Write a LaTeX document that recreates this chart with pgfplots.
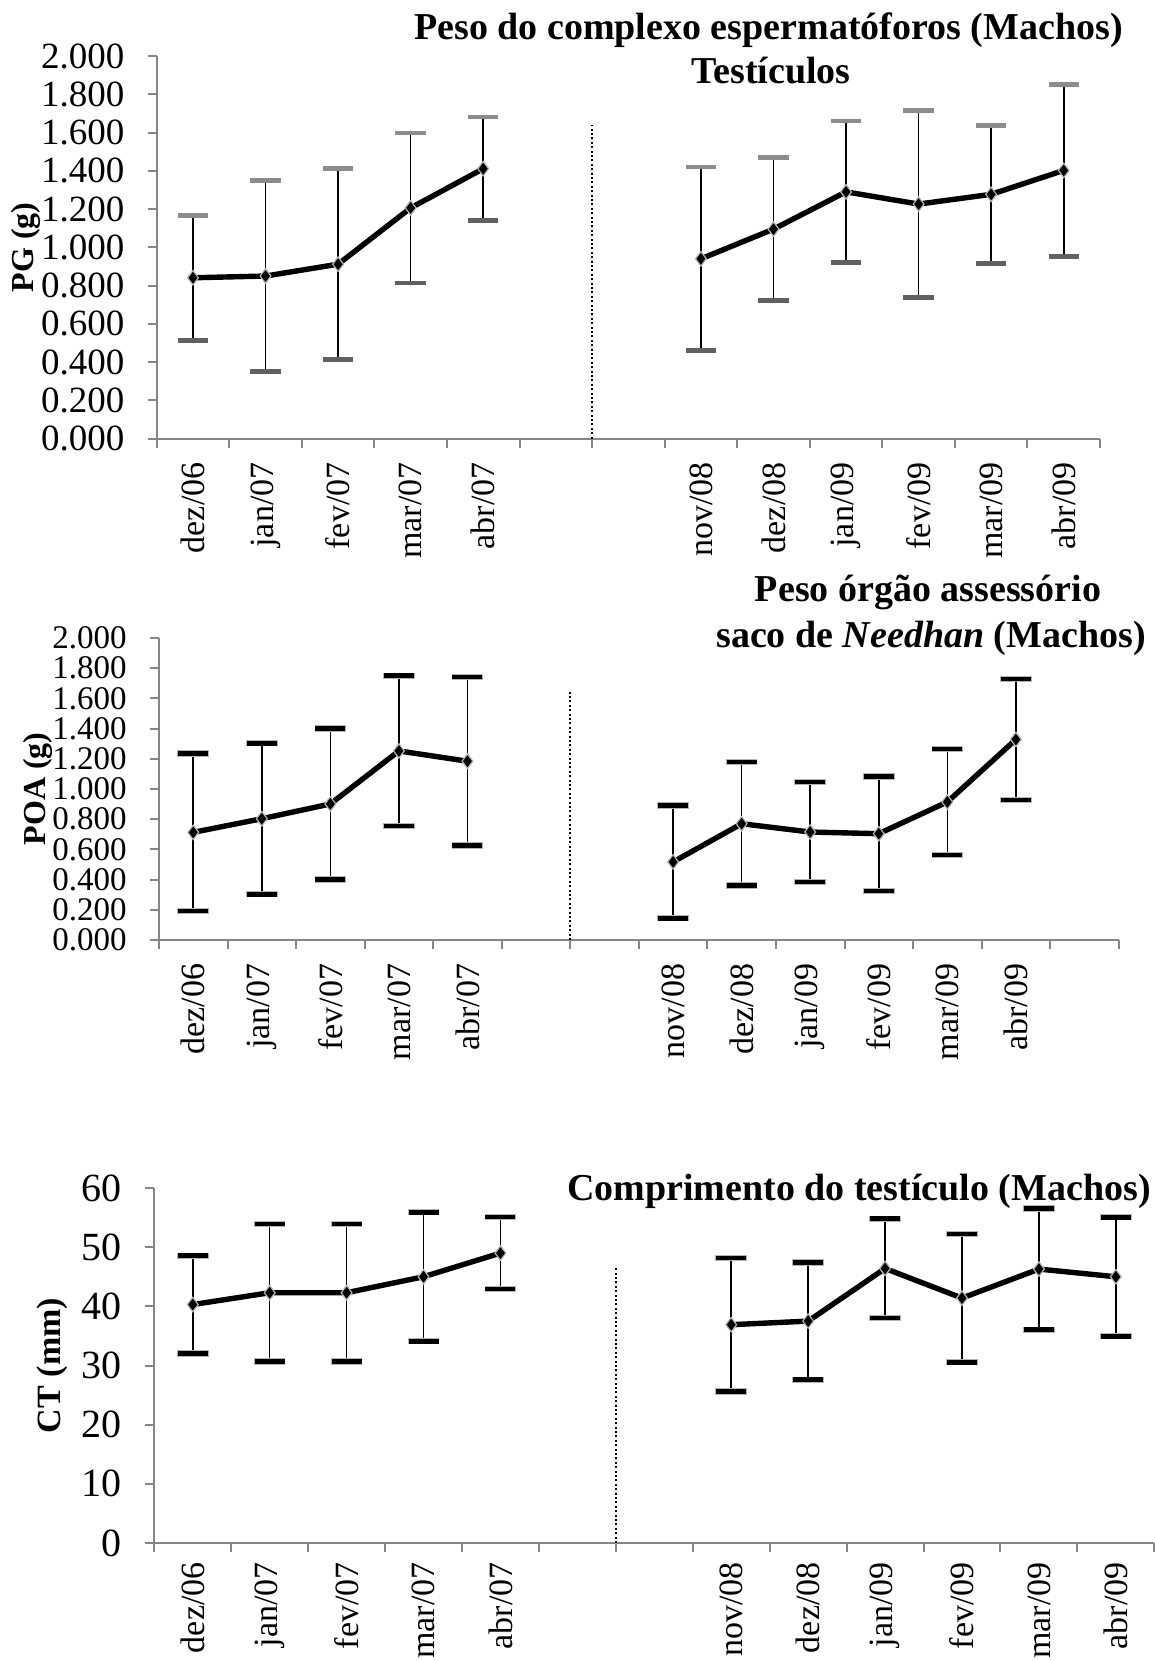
\documentclass[border=0pt]{standalone}
\usepackage{fontspec}
\setmainfont{Liberation Serif}
\usepackage{pgfplots}
\pgfplotsset{compat=1.18}
\usepackage{pgfplotstable}
\definecolor{axgray}{HTML}{868686}
\definecolor{capup}{HTML}{8C8C8C}
\definecolor{caplow}{HTML}{606060}
\definecolor{outl}{HTML}{B4B4B4}

% Panel 1: PG (g)
\pgfplotstableread{
x m e
0 0.841 0.327
1 0.850 0.500
2 0.912 0.500
3 1.206 0.392
4 1.411 0.270
}\pgA
\pgfplotstableread{
x m e
7 0.940 0.480
8 1.095 0.373
9 1.290 0.370
10 1.226 0.488
11 1.277 0.360
12 1.402 0.451
}\pgB
% Panel 2: POA (g)
\pgfplotstableread{
x m e
0 0.713 0.521
1 0.803 0.500
2 0.901 0.500
3 1.252 0.498
4 1.184 0.559
}\poaA
\pgfplotstableread{
x m e
7 0.517 0.373
8 0.770 0.409
9 0.715 0.331
10 0.704 0.379
11 0.914 0.352
12 1.328 0.400
}\poaB
% Panel 3: CT (mm)
\pgfplotstableread{
x m e
0 40.3 8.25
1 42.3 11.6
2 42.3 11.6
3 45.0 10.9
4 49.0 6.1
}\ctA
\pgfplotstableread{
x m e
7 36.9 11.3
8 37.5 9.9
9 46.4 8.4
10 41.4 10.85
11 46.3 10.25
12 45.0 10.05
}\ctB

\pgfplotsset{
  excel/.style={
    scale only axis, clip=false,
    axis x line=bottom, axis y line=left,
    axis line style={-, draw=axgray, line width=1pt},
    tick align=outside,
    major tick length=4.5pt, minor tick length=4.5pt,
    major x tick style={draw=none},
    minor x tick style={draw=axgray, line width=1pt},
    major y tick style={draw=axgray, line width=1pt},
    hide obscured x ticks=false,
    hide obscured y ticks=false,
    xtick={0,1,2,3,4,7,8,9,10,11,12},
    xticklabels={dez/06,jan/07,fev/07,mar/07,abr/07,nov/08,dez/08,jan/09,fev/09,mar/09,abr/09},
    xticklabel style={font=\fontsize{17}{20}\selectfont, black, rotate=90, anchor=east, inner xsep=7.2pt},
    yticklabel style={font=\fontsize{18}{21}\selectfont, black, inner xsep=11.5pt},
    ylabel style={font=\fontsize{16}{19}\selectfont\bfseries, anchor=center},
    /pgf/number format/assume math mode=true,
  },
  whisk/.style={draw=none, mark=none, forget plot,
    error bars/.cd, y dir=both, y explicit, error mark=none,
    error bar style={line width=0.8pt, black}},
  meanline/.style={black, line width=2.7pt, mark=diamond*, mark size=3.6pt,
    mark options={fill=black, draw=outl, line width=0.6pt}},
  capA/.style={only marks, mark=-, mark size=7.6pt, mark options={line width=2.4pt, draw=#1}},
  capO/.style={only marks, mark=-, mark size=7.9pt, mark options={line width=3.2pt, draw=outl}},
  capB/.style={only marks, mark=-, mark size=7.5pt, mark options={line width=2.3pt, draw=black}},
  sep/.style={black, line width=1pt, dash pattern=on 1pt off 1.2pt},
}

\begin{document}
\begin{tikzpicture}[x=1pt,y=1pt]
\useasboundingbox (0,0) rectangle (577.5,830.5);

% ---------------- Panel 1 ----------------
\begin{axis}[excel, at={(78.35pt,611.15pt)}, anchor=south west,
  width=471.65pt, height=191.35pt,
  xmin=-0.5, xmax=12.5, ymin=0, ymax=2,
  minor xtick={-0.5,0.5,...,12.5},
  ytick={0,0.2,0.4,0.6,0.8,1,1.2,1.4,1.6,1.8,2},
  yticklabels={0.000,0.200,0.400,0.600,0.800,1.000,1.200,1.400,1.600,1.800,2.000},
  yticklabel style={font=\fontsize{18.5}{21}\selectfont},
  ylabel={PG (g)},
  ylabel style={at={(axis description cs:-0.1386,0.5)}},
]
\addplot[sep] coordinates {(5.5,0) (5.5,1.64)};
\addplot[whisk] table[x=x, y=m, y error=e] {\pgA};
\addplot[whisk] table[x=x, y=m, y error=e] {\pgB};
\addplot[capA=capup] table[x=x, y expr=\thisrow{m}+\thisrow{e}] {\pgA};
\addplot[capA=caplow] table[x=x, y expr=\thisrow{m}-\thisrow{e}] {\pgA};
\addplot[capA=capup] table[x=x, y expr=\thisrow{m}+\thisrow{e}] {\pgB};
\addplot[capA=caplow] table[x=x, y expr=\thisrow{m}-\thisrow{e}] {\pgB};
\addplot[meanline] table[x=x, y=m] {\pgA};
\addplot[meanline] table[x=x, y=m] {\pgB};
\end{axis}

% ---------------- Panel 2 ----------------
\begin{axis}[excel, at={(79.5pt,360.5pt)}, anchor=south west,
  width=479.85pt, height=151pt,
  xmin=-0.5, xmax=13.5, ymin=0, ymax=2,
  minor xtick={-0.5,0.5,...,13.5},
  ytick={0,0.2,0.4,0.6,0.8,1,1.2,1.4,1.6,1.8,2},
  yticklabels={0.000,0.200,0.400,0.600,0.800,1.000,1.200,1.400,1.600,1.800,2.000},
  yticklabel style={font=\fontsize{16.5}{19}\selectfont},
  ylabel={POA (g)},
  ylabel style={at={(axis description cs:-0.1261,0.5)}},
]
\addplot[sep] coordinates {(5.5,0) (5.5,1.65)};
\addplot[whisk] table[x=x, y=m, y error=e] {\poaA};
\addplot[whisk] table[x=x, y=m, y error=e] {\poaB};
\addplot[capO] table[x=x, y expr=\thisrow{m}+\thisrow{e}] {\poaA};
\addplot[capO] table[x=x, y expr=\thisrow{m}-\thisrow{e}] {\poaA};
\addplot[capO] table[x=x, y expr=\thisrow{m}+\thisrow{e}] {\poaB};
\addplot[capO] table[x=x, y expr=\thisrow{m}-\thisrow{e}] {\poaB};
\addplot[capB] table[x=x, y expr=\thisrow{m}+\thisrow{e}] {\poaA};
\addplot[capB] table[x=x, y expr=\thisrow{m}-\thisrow{e}] {\poaA};
\addplot[capB] table[x=x, y expr=\thisrow{m}+\thisrow{e}] {\poaB};
\addplot[capB] table[x=x, y expr=\thisrow{m}-\thisrow{e}] {\poaB};
\addplot[meanline] table[x=x, y=m] {\poaA};
\addplot[meanline] table[x=x, y=m] {\poaB};
\end{axis}

% ---------------- Panel 3 ----------------
\begin{axis}[excel, at={(77.15pt,59pt)}, anchor=south west,
  width=500pt, height=177.5pt,
  xmin=-0.5, xmax=12.5, ymin=0, ymax=60,
  minor xtick={-0.5,0.5,...,12.5},
  ytick={0,10,20,30,40,50,60},
  yticklabel style={font=\fontsize{20}{23}\selectfont},
  xticklabel style={inner xsep=5pt},
  ylabel={CT (mm)},
  ylabel style={at={(axis description cs:-0.1023,0.5)}, font=\fontsize{17}{20}\selectfont\bfseries},
]
\addplot[sep] coordinates {(5.5,0) (5.5,46.5)};
\addplot[whisk] table[x=x, y=m, y error=e] {\ctA};
\addplot[whisk] table[x=x, y=m, y error=e] {\ctB};
\addplot[capO] table[x=x, y expr=\thisrow{m}+\thisrow{e}] {\ctA};
\addplot[capO] table[x=x, y expr=\thisrow{m}-\thisrow{e}] {\ctA};
\addplot[capO] table[x=x, y expr=\thisrow{m}+\thisrow{e}] {\ctB};
\addplot[capO] table[x=x, y expr=\thisrow{m}-\thisrow{e}] {\ctB};
\addplot[capB] table[x=x, y expr=\thisrow{m}+\thisrow{e}] {\ctA};
\addplot[capB] table[x=x, y expr=\thisrow{m}-\thisrow{e}] {\ctA};
\addplot[capB] table[x=x, y expr=\thisrow{m}+\thisrow{e}] {\ctB};
\addplot[capB] table[x=x, y expr=\thisrow{m}-\thisrow{e}] {\ctB};
\addplot[meanline] table[x=x, y=m] {\ctA};
\addplot[meanline] table[x=x, y=m] {\ctB};
\end{axis}

% ---------------- Titles ----------------
\begin{scope}[every node/.style={font=\fontsize{19}{22}\selectfont\bfseries, inner sep=0pt, anchor=base}]
\node at (384.25,810.75) {Peso do complexo espermatóforos (Machos)};
\node at (385.5,788.75) {Testículos};
\node at (464,529.5) {Peso órgão assessório};
\node at (465.5,506.5) {saco de \textit{Needhan} (Machos)};
\node at (429.5,230) {Comprimento do testículo (Machos)};
\end{scope}
\end{tikzpicture}
\end{document}
